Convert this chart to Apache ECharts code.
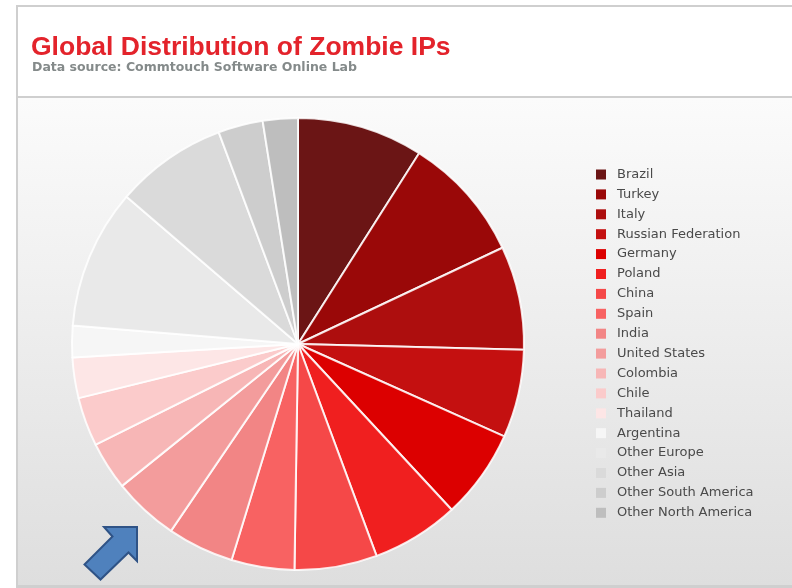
<!DOCTYPE html>
<html>
<head>
<meta charset="utf-8">
<script src="https://cdn.jsdelivr.net/npm/echarts@6/dist/echarts.min.js"></script>
<style>
  html, body { margin: 0; padding: 0; background: #fff; }
  #chart { width: 792px; height: 588px; }
</style>
</head>
<body>
<div id="chart"></div>
<script>
// share of zombie IPs per country (%)
const countries = ['Brazil', 'Turkey', 'Italy', 'Russian Federation', 'Germany', 'Poland', 'China', 'Spain', 'India',
    'United States', 'Colombia', 'Chile', 'Thailand', 'Argentina', 'Other Europe', 'Other Asia', 'Other South America', 'Other North America'];
const shares = [9.0, 9.0, 7.4, 6.3, 6.4, 6.25, 5.9, 4.5, 4.75, 4.7, 3.45, 3.5, 2.9, 2.25, 10.0, 8.0, 3.2, 2.5];
const sliceColors = ['#6b1515', '#9a0808', '#ad0e0e', '#c41010', '#dc0000', '#f01f1f', '#f54848', '#f86262', '#f28585',
    '#f39c9c', '#f7b6b6', '#fbcbcb', '#fde6e6', '#f6f6f6', '#e9e9e9', '#dadada', '#cdcdcd', '#bebebe'];

const chart = echarts.init(document.getElementById('chart'));

chart.setOption({
    animation: false,
    title: [
        {
            text: 'Global Distribution of Zombie IPs',
            left: 26, top: 29,
            textStyle: { fontFamily: 'Liberation Sans', fontWeight: 'bold', fontSize: 26.5, color: '#e3232b' }
        },
        {
            text: 'Data source: Commtouch Software Online Lab',
            left: 27, top: 56,
            textStyle: { fontFamily: 'DejaVu Sans', fontWeight: 'bold', fontSize: 12.5, color: '#848a8a' }
        }
    ],
    graphic: [
        // frame + header + shaded panel
        { type: 'rect', z: -10, shape: { x: 16, y: 5, width: 776, height: 583 }, style: { fill: '#cfcfcf' } },
        { type: 'rect', z: -9, shape: { x: 18, y: 7, width: 774, height: 89 }, style: { fill: '#ffffff' } },
        { type: 'rect', z: -9, shape: { x: 18, y: 98, width: 774, height: 487 },
          style: { fill: new echarts.graphic.LinearGradient(0, 0, 0, 1, [
              { offset: 0, color: '#fbfbfb' }, { offset: 1, color: '#dedede' }]) } },
        // blue annotation arrow
        { type: 'polygon', z: 10,
          shape: { points: [[137, 527], [137, 561], [128.5, 552.5], [100.5, 579.5], [84.5, 564.5], [112.5, 536.5], [104, 527]] },
          style: { fill: '#4f81bd', stroke: '#2f5386', lineWidth: 2 } }
    ],
    legend: {
        orient: 'vertical',
        left: 591, top: 162,
        itemWidth: 10, itemHeight: 10, itemGap: 4.9,
        icon: 'rect',
        selectedMode: false,
        itemStyle: { borderWidth: 0 },
        textStyle: { fontFamily: 'DejaVu Sans', fontSize: 13, color: '#4a4a4a', lineHeight: 15, padding: [0, 0, 0, 6] },
        data: countries
    },
    series: [{
        type: 'pie',
        center: [298, 344],
        radius: 226,
        startAngle: 90,
        clockwise: true,
        label: { show: false },
        labelLine: { show: false },
        emphasis: { disabled: true },
        itemStyle: { borderColor: 'rgba(255,255,255,0.85)', borderWidth: 2 },
        data: countries.map((c, i) => ({ name: c, value: shares[i], itemStyle: { color: sliceColors[i] } }))
    }]
});
</script>
</body>
</html>
